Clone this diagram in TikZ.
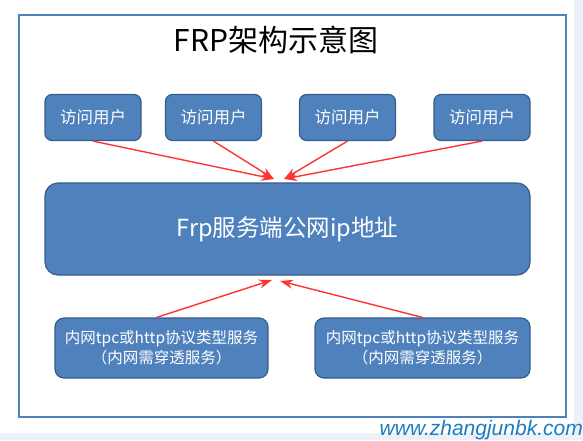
\documentclass[tikz,border=0pt]{standalone}
\usepackage{fontspec}
\setmainfont{Noto Sans CJK SC}
\newfontfamily\wmfont{Liberation Sans}
\usetikzlibrary{arrows.meta, positioning}
\definecolor{boxb}  {RGB}{79, 129, 189}
\definecolor{boxd}  {RGB}{56, 93, 138}
\definecolor{arrr}  {RGB}{255, 51, 51}
\definecolor{stripc}{RGB}{236, 241, 248}
\definecolor{wmc}   {RGB}{30, 125, 190}

\begin{document}
\begin{tikzpicture}[x=1pt, y=-1pt,
        blk/.style={draw=boxd, fill=boxb, line width=1.2pt, text=white, align=center, inner sep=0pt},
        user/.style={blk, rounded corners=7pt, minimum width=96pt, minimum height=46pt, font=\fontsize{16.5}{20}\selectfont},
        inner/.style={blk, rounded corners=9pt, minimum width=213pt, minimum height=60pt, font=\fontsize{15.5}{20}\selectfont},
        link/.style={draw=arrr, line width=1.4pt, -{Stealth[length=13pt, width=9pt]}}]
        \useasboundingbox (0,0) rectangle (583,440);
        \fill[white] (0,0) rectangle (583,440);
        \fill[stripc] (574,0) rectangle (583,440);
        \fill[stripc] (0,433) rectangle (583,440);
        \draw[boxb, line width=1.3pt] (19,15) rectangle (566,417);
        \node[font=\fontsize{30}{34}\selectfont] (title) at (276,40) {FRP架构示意图};
        \node[user] (user1) at (93,117.5) {访问用户};
        \node[user] (user2) at (213.5,117.5) {访问用户};
        \node[user] (user3) at (347.5,117.5) {访问用户};
        \node[user] (user4) at (482,117.5) {访问用户};
        \node[blk, rounded corners=13pt, minimum width=485pt, minimum height=92pt, font=\fontsize{23.5}{28}\selectfont] (server) at (287.5,229) {Frp服务端公网ip地址};
        \node[inner] (svc1) at (161.5,348) {内网tpc或http协议类型服务\\（内网需穿透服务）};
        \node[inner, minimum width=215pt] (svc2) at (422.5,348) {内网tpc或http协议类型服务\\（内网需穿透服务）};
        \coordinate (hubL) at (274,179);
        \coordinate (hubR) at (284,179);
        \coordinate (lowL) at (272,280);
        \coordinate (lowR) at (280,281);
        \draw[link] (user1.south) -- (hubL);
        \draw[link] (user2.south) -- (hubL);
        \draw[link] (user3.south) -- (hubR);
        \draw[link] (user4.south) -- (hubR);
        \draw[link] ([xshift=-5pt]svc1.north) -- (lowL);
        \draw[link] (svc2.north) -- (lowR);
        \node[anchor=east, text=wmc, font=\wmfont\itshape\fontsize{21}{24}\selectfont, inner sep=0pt] (site) at (583,430) {www.zhangjunbk.com};
    \end{tikzpicture}
\end{document}
